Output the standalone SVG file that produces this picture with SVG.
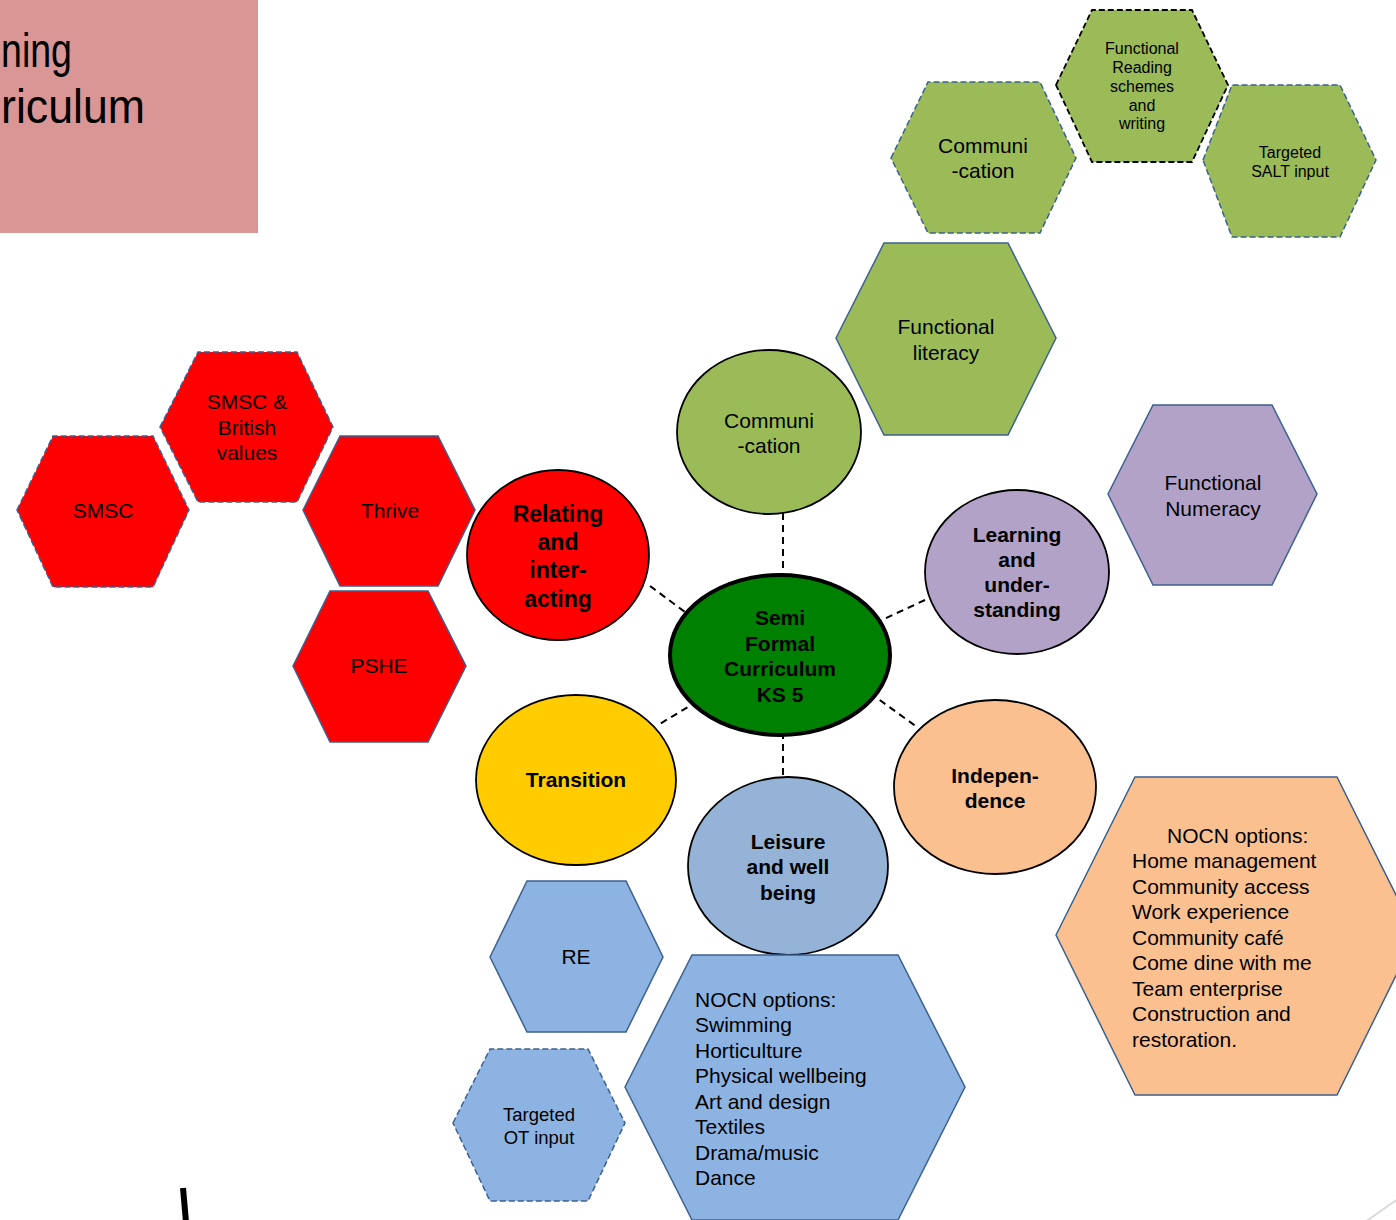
<svg xmlns="http://www.w3.org/2000/svg" width="1396" height="1220" viewBox="0 0 1396 1220">
<style>
text{font-family:"Liberation Sans",Arial,sans-serif;fill:#000;text-anchor:middle}
.t21{font-size:21px}
.t16{font-size:16px}
.b{font-weight:bold;font-size:21px}
.l{text-anchor:start}
.title{font-size:48px;text-anchor:start}
.hex{stroke:#3C6090;stroke-width:1.5}
.dash{stroke-dasharray:6 3}
.circ{stroke:#000;stroke-width:1.8}
.conn{stroke:#000;stroke-width:2;stroke-dasharray:7 5;fill:none}
.g{fill:#9BBB59}.r{fill:#FF0000}.p{fill:#B3A2C7}.o{fill:#FAC090}.bl{fill:#8DB3E2}
</style>
<g id="title">
<rect x="0" y="0" width="258" height="233" fill="#D99694"/>
<text class="title" x="1" y="67" textLength="71" lengthAdjust="spacingAndGlyphs">ning</text>
<text class="title" x="1" y="123" textLength="144" lengthAdjust="spacingAndGlyphs">riculum</text>
</g>

<g id="connectors">
<line class="conn" x1="783" y1="513" x2="783" y2="576"/>
<line class="conn" x1="650" y1="586" x2="685" y2="612"/>
<line class="conn" x1="925" y1="600" x2="871" y2="625"/>
<line class="conn" x1="708" y1="695" x2="658" y2="725"/>
<line class="conn" x1="870" y1="693" x2="917" y2="727"/>
<line class="conn" x1="783" y1="720" x2="783" y2="778"/>
</g>

<g id="hex-comm">
<polygon class="hex dash g" points="891,158 928,82 1040,82 1076,158 1040,233 928,233"/>
<text class="t21" x="983" y="153">Communi</text><text class="t21" x="983" y="178">-cation</text>
</g>
<g id="hex-reading">
<polygon class="g dash" stroke="#000" stroke-width="1.8" points="1056,85 1092,10 1192,10 1228,85 1192,162 1092,162"/>
<text class="t16" x="1142" y="54">Functional</text><text class="t16" x="1142" y="73">Reading</text><text class="t16" x="1142" y="92">schemes</text><text class="t16" x="1142" y="111">and</text><text class="t16" x="1142" y="129">writing</text>
</g>
<g id="hex-salt">
<polygon class="hex dash g" points="1203,160 1232,85 1340,85 1376,160 1340,237 1232,237"/>
<text class="t16" x="1290" y="158">Targeted</text><text class="t16" x="1290" y="177">SALT input</text>
</g>
<g id="hex-literacy">
<polygon class="hex g" points="836,338 884,243 1008,243 1056,338 1008,435 884,435"/>
<text class="t21" x="946" y="334">Functional</text><text class="t21" x="946" y="360">literacy</text>
</g>
<g id="circle-comm">
<ellipse class="circ g" cx="769" cy="432" rx="92" ry="82"/>
<text class="t21" x="769" y="428">Communi</text><text class="t21" x="769" y="453">-cation</text>
</g>

<g id="hex-smsc-british">
<polygon class="hex dash r" points="160,427 198,352 297,352 333,427 297,502 198,502"/>
<text class="t21" x="247" y="409">SMSC &amp;</text><text class="t21" x="247" y="435">British</text><text class="t21" x="247" y="460">values</text>
</g>
<g id="hex-smsc">
<polygon class="hex dash r" points="17,510 53,436 153,436 189,510 153,587 53,587"/>
<text class="t21" x="103" y="518">SMSC</text>
</g>
<g id="hex-thrive">
<polygon class="hex r" points="303,510 340,436 438,436 475,510 438,586 340,586"/>
<text class="t21" x="390" y="518">Thrive</text>
</g>
<g id="hex-pshe">
<polygon class="hex r" points="293,666 330,591 428,591 466,666 428,742 330,742"/>
<text class="t21" x="379" y="673">PSHE</text>
</g>
<g id="circle-relating">
<ellipse class="circ r" cx="558" cy="555" rx="91" ry="85"/>
<text class="b" style="font-size:23px" x="558" y="522">Relating</text><text class="b" style="font-size:23px" x="558" y="550">and</text><text class="b" style="font-size:23px" x="558" y="578">inter-</text><text class="b" style="font-size:23px" x="558" y="607">acting</text>
</g>

<g id="center">
<ellipse cx="780" cy="655" rx="110" ry="80" fill="#008000" stroke="#000" stroke-width="4"/>
<text class="b" x="780" y="625">Semi</text><text class="b" x="780" y="651">Formal</text><text class="b" x="780" y="676">Curriculum</text><text class="b" x="780" y="702">KS 5</text>
</g>

<g id="circle-learning">
<ellipse class="circ p" cx="1017" cy="572" rx="92" ry="82"/>
<text class="b" x="1017" y="542">Learning</text><text class="b" x="1017" y="567">and</text><text class="b" x="1017" y="592">under-</text><text class="b" x="1017" y="617">standing</text>
</g>
<g id="hex-numeracy">
<polygon class="hex p" points="1108,494 1153,405 1272,405 1317,494 1272,585 1153,585"/>
<text class="t21" x="1213" y="490">Functional</text><text class="t21" x="1213" y="516">Numeracy</text>
</g>

<g id="circle-transition">
<ellipse class="circ" fill="#FFCC00" cx="576" cy="780" rx="100" ry="85"/>
<text class="b" x="576" y="787">Transition</text>
</g>
<g id="circle-leisure">
<ellipse class="circ" fill="#95B3D7" cx="788" cy="866" rx="100" ry="89"/>
<text class="b" x="788" y="849">Leisure</text><text class="b" x="788" y="874">and well</text><text class="b" x="788" y="900">being</text>
</g>
<g id="circle-independence">
<ellipse class="circ o" cx="995" cy="787" rx="101" ry="87"/>
<text class="b" x="995" y="783">Indepen-</text><text class="b" x="995" y="808">dence</text>
</g>

<g id="hex-re">
<polygon class="hex bl" points="490,957 527,881 626,881 663,957 626,1032 527,1032"/>
<text class="t21" x="576" y="964">RE</text>
</g>
<g id="hex-ot">
<polygon class="hex dash bl" points="453,1123 490,1049 588,1049 625,1123 588,1201 490,1201"/>
<text style="font-size:18.5px" x="539" y="1121">Targeted</text><text style="font-size:18.5px" x="539" y="1144">OT input</text>
</g>
<g id="hex-nocn-leisure">
<polygon class="hex bl" points="625,1087 692,955 898,955 965,1087 898,1220 692,1220"/>
<text class="t21 l" x="695" y="1007">NOCN options:</text>
<text class="t21 l" x="695" y="1032">Swimming</text>
<text class="t21 l" x="695" y="1058">Horticulture</text>
<text class="t21 l" x="695" y="1083">Physical wellbeing</text>
<text class="t21 l" x="695" y="1109">Art and design</text>
<text class="t21 l" x="695" y="1134">Textiles</text>
<text class="t21 l" x="695" y="1160">Drama/music</text>
<text class="t21 l" x="695" y="1185">Dance</text>
</g>
<g id="hex-nocn-independence">
<polygon class="hex o" points="1056,935 1135,777 1337,777 1416,935 1337,1095 1135,1095"/>
<text class="t21 l" x="1167" y="843">NOCN options:</text>
<text class="t21 l" x="1132" y="868">Home management</text>
<text class="t21 l" x="1132" y="894">Community access</text>
<text class="t21 l" x="1132" y="919">Work experience</text>
<text class="t21 l" x="1132" y="945">Community café</text>
<text class="t21 l" x="1132" y="970">Come dine with me</text>
<text class="t21 l" x="1132" y="996">Team enterprise</text>
<text class="t21 l" x="1132" y="1021">Construction and</text>
<text class="t21 l" x="1132" y="1047">restoration.</text>
</g>

<line x1="183" y1="1188" x2="186" y2="1222" stroke="#000" stroke-width="6"/>
<line x1="1365" y1="1222" x2="1398" y2="1199" stroke="#D9D9D9" stroke-width="2"/>
</svg>
